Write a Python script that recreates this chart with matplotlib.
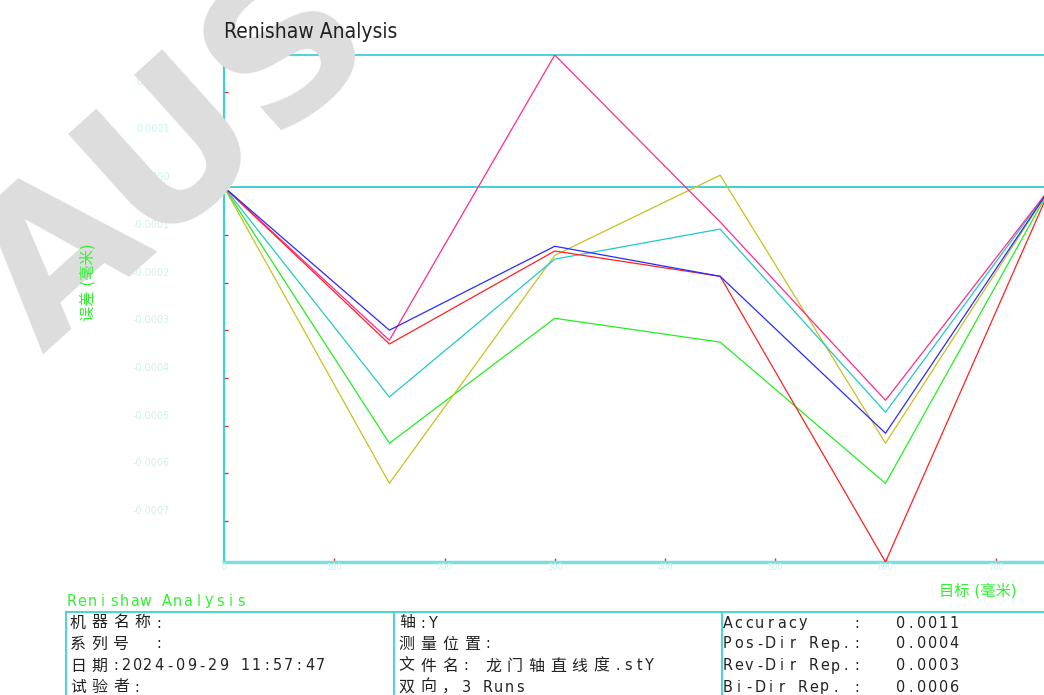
import matplotlib
matplotlib.use("Agg")
import matplotlib.pyplot as plt
from matplotlib import font_manager
from matplotlib.lines import Line2D
from matplotlib.transforms import offset_copy
import unicodedata

# 数据 (目标位置 mm, 误差 mm)
targets = [0, 150, 300, 450, 600, 750]
err_blue = [0, -0.000300, -0.000124, -0.000187, -0.000516, 0]
err_red = [0, -0.000329, -0.000134, -0.000187, -0.000786, 0]
err_magenta = [0, -0.000321, 0.000277, -0.000073, -0.000447, 0]
err_cyan = [0, -0.000440, -0.000151, -0.000088, -0.000472, 0]
err_green = [0, -0.000537, -0.000275, -0.000325, -0.000621, 0]
err_yellow = [0, -0.000621, -0.000143, 0.000025, -0.000537, 0]

y_ticks = [0.0002, 0.0001, 0.0, -0.0001, -0.0002, -0.0003, -0.0004, -0.0005, -0.0006, -0.0007]
x_ticks = [0, 100, 200, 300, 400, 500, 600, 700]

info_left = ["机器名称:", "系列号  :", "日期:2024-09-29 11:57:47", "试验者:"]
info_mid = ["轴:Y", "测量位置:", "文件名: 龙门轴直线度.stY", "双向，3 Runs"]
info_right = ["Accuracy    :   0.0011", "Pos-Dir Rep.:   0.0004",
              "Rev-Dir Rep.:   0.0003", "Bi-Dir Rep. :   0.0006"]

W, H = 1044, 695
CYAN = "#3cd2d2"
GREEN = "#33ee33"

names = {f.name for f in font_manager.fontManager.ttflist}
narrow = "Liberation Sans Narrow" if "Liberation Sans Narrow" in names else "DejaVu Sans"
FAM = [narrow, "Noto Sans CJK SC", "DejaVu Sans"]

fig = plt.figure(figsize=(W / 100, H / 100), dpi=100)


def px(x, y):
    return x / W, 1 - y / H


def grid_text(x0, y, s, color="#222222", pitch=10.8, size=11.5):
    # 等宽网格排字, 全角字符占两格
    cell = 0
    for c in s:
        w = 2 if unicodedata.east_asian_width(c) in ("W", "F") else 1
        if c != " ":
            fx, fy = px(x0 + (cell + w / 2) * pitch, y)
            fig.text(fx, fy, c, ha="center", va="center", color=color,
                     fontsize=size, family=FAM, fontstretch="condensed")
        cell += w


# 水印
wx, wy = px(175, 160)
fig.text(wx, wy, "AUS", fontsize=145, fontweight="bold", color="#dddddd",
         rotation=42, ha="center", va="center", family="DejaVu Sans", zorder=0)

# 主图
ax = fig.add_axes([224 / W, (H - 562) / H, 882 / W, (562 - 55) / H])
ax.patch.set_alpha(0)
series = [(err_green, "#22ee22"), (err_yellow, "#c8c020"), (err_cyan, "#22c8c8"),
          (err_magenta, "#ff2a8c"), (err_red, "#ff2020"), (err_blue, "#2a2aff")]
for vals, col in series:
    ax.plot(targets, vals, color=col, lw=0.9, zorder=3)

all_vals = err_blue + err_red + err_magenta + err_cyan + err_green + err_yellow
ax.set_ylim(min(all_vals), max(all_vals))
ax.set_xlim(0, 800)
ax.axhline(0, color=CYAN, lw=1.4, zorder=2)

ax.spines["right"].set_visible(False)
ax.spines["left"].set_color(CYAN)
ax.spines["left"].set_linewidth(1.6)
ax.spines["top"].set_color(CYAN)
ax.spines["top"].set_linewidth(1.3)
ax.spines["bottom"].set_color("#7cdede")
ax.spines["bottom"].set_linewidth(2.5)

ax.set_yticks(y_ticks)
ax.set_xticks(x_ticks)
ax.tick_params(direction="in", color="#ff2020", length=3, width=1,
               labelleft=False, labelbottom=False)

# 淡色刻度标签
ytr = offset_copy(ax.get_yaxis_transform(), fig=fig, x=-54, y=10, units="dots")
for v in y_ticks:
    ax.text(0, v, f"{v:.4f}", transform=ytr, ha="right", va="center",
            fontsize=7, color="#cdf1f1", family=FAM)
xtr = offset_copy(ax.get_xaxis_transform(), fig=fig, x=0, y=-6, units="dots")
for v in x_ticks:
    ax.text(v, 0, f"{v}", transform=xtr, ha="center", va="center",
            fontsize=6, color="#cdf1f1", family=FAM)

# 标题与轴标题
tx, ty = px(224, 32)
fig.text(tx, ty, "Renishaw Analysis", fontsize=15, color="#222222",
         family=FAM, fontstretch="condensed", ha="left", va="center")
lx, ly = px(88, 282)
fig.text(lx, ly, "误差 (毫米)", rotation=90, fontsize=11, color=GREEN,
         family=FAM, ha="center", va="center")
xx, xy = px(978, 591)
fig.text(xx, xy, "目标 (毫米)", fontsize=11, color=GREEN,
         family=FAM, ha="center", va="center")

# 底部信息表
grid_text(66, 601, "Renishaw Analysis", color=GREEN, pitch=10.6)
for x0, x1, y0, y1 in [(66, 1044, 612, 612), (66, 66, 612, 695),
                       (394, 394, 612, 695), (722, 722, 612, 695)]:
    a, b = px(x0, y0)
    c, d = px(x1, y1)
    fig.add_artist(Line2D([a, c], [b, d], color=CYAN, lw=1.3))

row_y = [623, 644, 666, 687]
for i, y in enumerate(row_y):
    grid_text(67, y, info_left[i])
    grid_text(396, y, info_mid[i])
    grid_text(722, y, info_right[i])

fig.savefig("out.png", dpi=100)
